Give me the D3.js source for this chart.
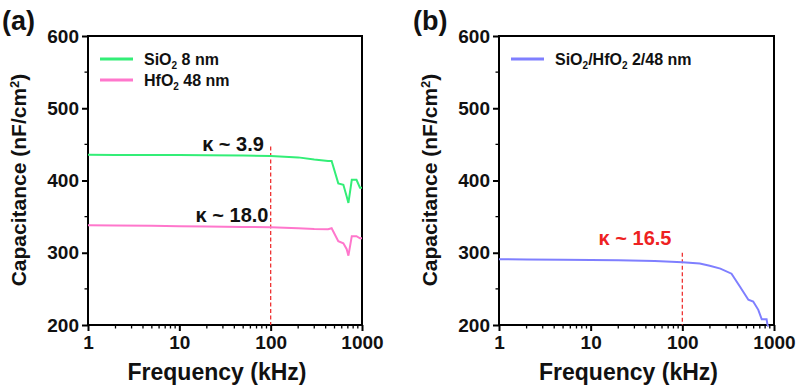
<!DOCTYPE html>
<html>
<head>
<meta charset="utf-8">
<script src="https://cdn.jsdelivr.net/npm/d3@7"></script>
<style>
  body { margin: 0; background: #fff; }
  svg { font-family: "Liberation Sans", Arial, sans-serif; font-weight: bold; }
</style>
</head>
<body>
<svg id="chart" width="797" height="387"></svg>
<script>
// panel (a): SiO2 8 nm
const freqSiO2 = [1, 2, 5, 10, 20, 50, 100, 200, 300, 425, 465, 550, 625, 680, 710, 773, 870, 950, 1000];
const capSiO2  = [435.5, 435.4, 435.3, 435.2, 435, 434.7, 434, 432, 429, 427, 427, 396, 394, 378, 369, 401, 401, 390, 390];
// panel (a): HfO2 48 nm
const freqHfO2 = [1, 2, 5, 10, 20, 50, 100, 200, 300, 425, 465, 550, 625, 680, 710, 773, 870, 950, 1000];
const capHfO2  = [338, 337.6, 337.2, 336.8, 336.4, 335.8, 335.2, 334, 333, 332.6, 334, 316, 313, 305, 296, 323, 323, 320, 320];
// panel (b): SiO2/HfO2 2/48 nm
const freqStack = [1, 2, 5, 10, 20, 50, 100, 155, 199, 260, 344, 426, 525, 593, 674, 735, 830, 850, 870];
const capStack  = [291, 290.8, 290.4, 290, 289.6, 288.6, 287, 285, 282, 278, 271, 253, 235, 232.5, 221, 208, 208, 200, 198];

const yTicks = [200, 300, 400, 500, 600];
const xTicks = [1, 10, 100, 1000];

const svg = d3.select("#chart");

function drawPanel(opts) {
    const x = d3.scaleLog().domain([1, 1000]).range([opts.left, opts.right]);
    const y = d3.scaleLinear().domain([200, 600]).range([325, 36]);
    const g = svg.append("g");

    // minor ticks
    const minorX = [];
    for (let d = 1; d < 1000; d *= 10)
        for (let k = 2; k < 10; k++) minorX.push(d * k);
    g.append("g")
        .attr("transform", "translate(0,325)")
        .selectAll("line").data(minorX).join("line")
        .attr("x1", d => x(d)).attr("x2", d => x(d))
        .attr("y1", 0).attr("y2", 3.5)
        .attr("stroke", "#000").attr("stroke-width", 1.3);
    g.append("g")
        .selectAll("line").data([250, 350, 450, 550]).join("line")
        .attr("x1", opts.left - 3.5).attr("x2", opts.left)
        .attr("y1", d => y(d)).attr("y2", d => y(d))
        .attr("stroke", "#000").attr("stroke-width", 1.3);

    // axes
    const xAxis = g.append("g")
        .attr("transform", "translate(0,325)")
        .call(d3.axisBottom(x).tickValues(xTicks).tickFormat(d3.format("d")).tickSize(6).tickPadding(5));
    const yAxis = g.append("g")
        .attr("transform", `translate(${opts.left},0)`)
        .call(d3.axisLeft(y).tickValues(yTicks).tickSize(6).tickPadding(3));
    [xAxis, yAxis].forEach(a => {
        a.select(".domain").remove();
        a.selectAll("line").attr("stroke-width", 2);
        a.selectAll("text").attr("font-size", 19).attr("font-weight", "bold")
            .attr("font-family", "Liberation Sans, Arial, sans-serif").attr("fill", "#111");
    });

    // frame
    g.append("rect")
        .attr("x", opts.left).attr("y", 36)
        .attr("width", opts.right - opts.left).attr("height", 325 - 36)
        .attr("fill", "none").attr("stroke", "#000").attr("stroke-width", 2);

    // axis titles
    g.append("text")
        .attr("x", (opts.left + opts.right) / 2 - 8).attr("y", 380)
        .attr("text-anchor", "middle").attr("font-size", 23).attr("fill", "#111")
        .text("Frequency (kHz)");
    g.append("text")
        .attr("transform", `translate(${opts.left - 62},180) rotate(-90)`)
        .attr("text-anchor", "middle").attr("font-size", 21).attr("fill", "#111")
        .text("Capacitance (nF/cm")
        .append("tspan").attr("baseline-shift", "super").attr("font-size", 13).text("2")
        .select(function() { return this.parentNode; })
        .append("tspan").text(")");

    // panel letter
    g.append("text")
        .attr("x", opts.left - 86).attr("y", 30)
        .attr("font-size", 27).attr("fill", "#111")
        .text(opts.letter);

    // dashed marker at 100 kHz
    g.append("line")
        .attr("x1", x(100)).attr("x2", x(100))
        .attr("y1", y(opts.dashTop)).attr("y2", 325)
        .attr("stroke", "#ee3333").attr("stroke-width", 1.3)
        .attr("stroke-dasharray", "4,2.5");

    // curves
    const line = d3.line().x(d => x(d[0])).y(d => y(d[1]));
    opts.series.forEach((s, i) => {
        g.append("path")
            .datum(d3.zip(s.freq, s.cap))
            .attr("fill", "none").attr("stroke", s.color).attr("stroke-width", 2)
            .attr("d", line);
        // legend
        const ly = 59 + i * 21;
        g.append("line")
            .attr("x1", opts.left + 12).attr("x2", opts.left + 45)
            .attr("y1", ly).attr("y2", ly)
            .attr("stroke", s.color).attr("stroke-width", 3);
        const t = g.append("text")
            .attr("x", opts.left + 56).attr("y", ly + 6)
            .attr("font-size", 16).attr("fill", "#111");
        s.label.forEach(p => {
            const sp = t.append("tspan").text(p.t);
            if (p.sub) sp.attr("font-size", 10).attr("dy", 4);
            if (p.after) sp.attr("dy", -4);
        });
    });

    // kappa labels
    opts.kappa.forEach(k => {
        g.append("text")
            .attr("x", k.x).attr("y", k.y)
            .attr("text-anchor", "middle").attr("font-size", 20)
            .attr("fill", k.color)
            .text(k.text);
    });
}

drawPanel({
    left: 88, right: 362, letter: "(a)", dashTop: 447,
    series: [
        { freq: freqSiO2, cap: capSiO2, color: "#33ee77",
          label: [{ t: "SiO" }, { t: "2", sub: true }, { t: " 8 nm", after: true }] },
        { freq: freqHfO2, cap: capHfO2, color: "#ff77cc",
          label: [{ t: "HfO" }, { t: "2", sub: true }, { t: " 48 nm", after: true }] }
    ],
    kappa: [
        { text: "κ ~ 3.9", x: 233, y: 151, color: "#111" },
        { text: "κ ~ 18.0", x: 232, y: 222, color: "#111" }
    ]
});

drawPanel({
    left: 499, right: 774, letter: "(b)", dashTop: 300,
    series: [
        { freq: freqStack, cap: capStack, color: "#7f7fff",
          label: [{ t: "SiO" }, { t: "2", sub: true }, { t: "/HfO", after: true }, { t: "2", sub: true }, { t: " 2/48 nm", after: true }] }
    ],
    kappa: [
        { text: "κ ~ 16.5", x: 635, y: 245, color: "#ee2222" }
    ]
});
</script>
</body>
</html>
